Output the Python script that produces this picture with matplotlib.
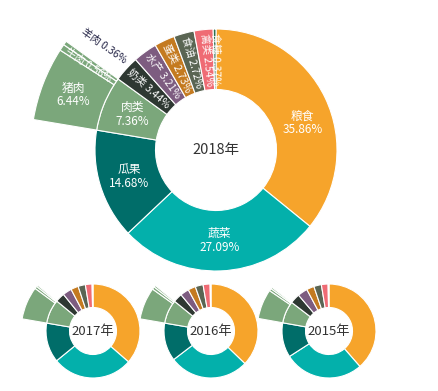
import numpy as np
import matplotlib.pyplot as plt

plt.rcParams['font.family'] = ['Noto Sans CJK SC', 'DejaVu Sans']

# categories in clockwise order starting at 12 o'clock
cats = ['粮食', '蔬菜', '瓜果', '肉类', '奶类', '水产', '蛋类', '食油', '禽类', '食糖']
colors = ['#f6a42b', '#03b0ab', '#006d69', '#7ba77b', '#2e3832',
          '#7d5c80', '#c47a20', '#5a6553', '#ef6b74', '#2f6e4f']
meat_cats = ['猪肉', '牛肉', '羊肉']
meat_color = '#7ba77b'

years = ['2018年', '2017年', '2016年', '2015年']
v2018 = [35.86, 27.09, 14.68, 7.36, 3.44, 3.21, 2.73, 2.72, 2.54, 0.37]
v2017 = [36.4, 27.7, 13.6, 8.3, 3.2, 3.1, 2.6, 2.5, 2.3, 0.3]
v2016 = [37.2, 27.4, 13.1, 8.2, 3.1, 3.0, 2.6, 2.7, 2.4, 0.3]
v2015 = [38.6, 27.3, 11.9, 7.6, 3.4, 3.4, 2.6, 2.6, 2.3, 0.3]
m2018 = [6.44, 0.56, 0.36]
m2017 = [7.4, 0.55, 0.35]
m2016 = [7.2, 0.6, 0.4]
m2015 = [6.7, 0.55, 0.35]

W, H = 438, 391
fig = plt.figure(figsize=(W / 100, H / 100), dpi=100)
ax = fig.add_axes([0, 0, 1, 1])


def norm(a):
    return ((a + 180) % 360) - 180


def donut(center, R, vals, meat, title, tsize, labels=False):
    wp = dict(width=R * 0.5, edgecolor='white', linewidth=0.8)
    wedges, _ = ax.pie(vals, colors=colors, radius=R, center=center,
                       startangle=90, counterclock=False, wedgeprops=wp, frame=True)
    # outer ring: breakdown of 肉类
    i = cats.index('肉类')
    before = sum(vals[:i])
    after = sum(vals[i + 1:])
    R2 = R * 1.53
    ow, _ = ax.pie([before] + meat + [after], radius=R2, center=center,
                   colors=['w'] + [meat_color] * 3 + ['w'],
                   startangle=90, counterclock=False, frame=True,
                   wedgeprops=dict(width=R2 - R, edgecolor='white', linewidth=0.8))
    ow[0].set_visible(False)
    ow[-1].set_visible(False)
    ax.text(center[0], center[1], title, ha='center', va='center',
            fontsize=tsize, color='#333333')
    if not labels:
        return
    cx, cy = center
    for w, c, v in zip(wedges, cats, vals):
        a = norm((w.theta1 + w.theta2) / 2)
        r = R * 0.75
        if c == '粮食':
            a -= 8
        x = cx + r * np.cos(np.radians(a))
        y = cy + r * np.sin(np.radians(a))
        if v >= 5:
            ax.text(x, y, f'{c}\n{v:.2f}%', ha='center', va='center',
                    fontsize=8.5, color='white', linespacing=1.1)
        else:
            rot = a - 180 if a > 90 else a
            ax.text(x, y, f'{c} {v:.2f}%', ha='center', va='center',
                    fontsize=7.5, color='white', rotation=rot, rotation_mode='anchor')
    rm = (R + R2) / 2
    for w, c, v in zip(ow[1:-1], meat_cats, meat):
        a = norm((w.theta1 + w.theta2) / 2)
        if v >= 5:
            x = cx + rm * np.cos(np.radians(a))
            y = cy + rm * np.sin(np.radians(a))
            ax.text(x, y, f'{c}\n{v:.2f}%', ha='center', va='center',
                    fontsize=8.5, color='white', linespacing=1.1)
        elif c == '羊肉':
            b = a - 7.5
            x = cx + rm * np.cos(np.radians(b))
            y = cy + rm * np.sin(np.radians(b))
            ax.text(x, y, f'{c} {v:.2f}%', ha='center', va='center',
                    fontsize=7.5, color='#222244', rotation=a - 180, rotation_mode='anchor')
        else:
            x = cx + rm * np.cos(np.radians(a))
            y = cy + rm * np.sin(np.radians(a))
            ax.text(x, y, f'{c} {v:.2f}%', ha='center', va='center',
                    fontsize=7.5, color='white', rotation=a - 180, rotation_mode='anchor')


donut((216, H - 150), 121, v2018, m2018, years[0], 10.5, labels=True)
donut((93, H - 331), 47, v2017, m2017, years[1], 9.5)
donut((211, H - 331), 47, v2016, m2016, years[2], 9.5)
donut((329, H - 331), 47, v2015, m2015, years[3], 9.5)

ax.set_xlim(0, W)
ax.set_ylim(0, H)
ax.set_aspect('equal')
ax.axis('off')
fig.savefig('out.png', dpi=100)
